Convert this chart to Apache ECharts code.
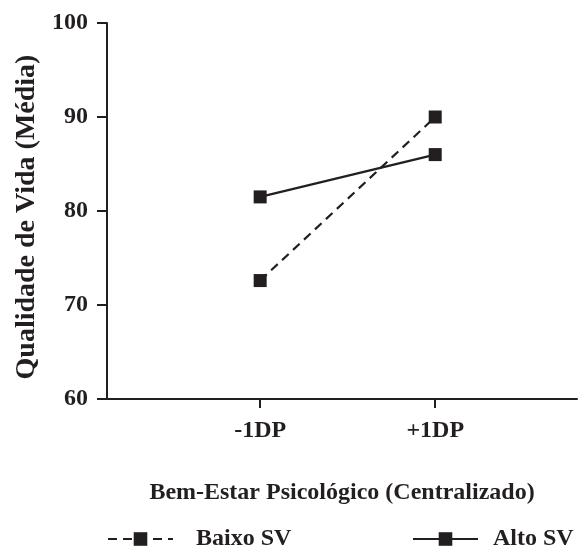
<!DOCTYPE html>
<html>
<head>
<meta charset="utf-8">
<script src="https://cdn.jsdelivr.net/npm/echarts@6/dist/echarts.min.js"></script>
<style>
  html, body { margin: 0; padding: 0; background: #fff; }
  #chart { width: 578px; height: 549px; }
</style>
</head>
<body>
<div id="chart"></div>
<script>
// positions on the x axis (-1 SD / +1 SD)
const xPositions = [-1, 1];
const xTickLabels = ["-1DP", "+1DP"];
const baixoSV = [72.6, 90.0];
const altoSV = [81.5, 86.0];
const seriesNames = ["Baixo SV", "Alto SV"];

const ink = "#231f20";
const font = "'Liberation Serif', 'Times New Roman', serif";

function pairs(vals) {
  return xPositions.map((x, i) => [x, vals[i]]);
}

const chart = echarts.init(document.getElementById("chart"));
chart.setOption({
  animation: false,
  backgroundColor: "#fff",
  grid: { left: 107, right: 1, top: 23, bottom: 150 },
  xAxis: {
    type: "value",
    min: -2.75,
    max: 2.62,
    name: "Bem-Estar Psicológico (Centralizado)",
    nameLocation: "middle",
    nameGap: 82,
    nameTextStyle: { color: ink, fontFamily: font, fontWeight: "bold", fontSize: 24 },
    splitLine: { show: false },
    axisLine: { onZero: false, lineStyle: { color: ink, width: 2 } },
    axisTick: {
      show: true,
      customValues: xPositions,
      length: 9,
      lineStyle: { color: ink, width: 2 },
    },
    axisLabel: {
      customValues: xPositions,
      margin: 20,
      color: ink,
      fontFamily: font,
      fontWeight: "bold",
      fontSize: 24,
      formatter: (v) => xTickLabels[xPositions.indexOf(v)],
    },
  },
  yAxis: {
    type: "value",
    min: 60,
    max: 100,
    interval: 10,
    name: "Qualidade de Vida (Média)",
    nameLocation: "middle",
    nameGap: 60,
    nameTextStyle: {
      color: ink, fontFamily: font, fontWeight: "bold", fontSize: 28,
      padding: [0, 12, 0, 0],
    },
    splitLine: { show: false },
    axisLine: { show: true, onZero: false, lineStyle: { color: ink, width: 2 } },
    axisTick: { show: true, length: 10, lineStyle: { color: ink, width: 2 } },
    axisLabel: {
      margin: 19,
      color: ink,
      fontFamily: font,
      fontWeight: "bold",
      fontSize: 24,
    },
  },
  legend: [
    {
      data: [seriesNames[0]],
      left: 102,
      top: 522,
      itemWidth: 65,
      itemHeight: 17,
      textStyle: { color: ink, fontFamily: font, fontWeight: "bold", fontSize: 24, padding: [0, 0, 0, 18] },
    },
    {
      data: [seriesNames[1]],
      left: 407,
      top: 522,
      itemWidth: 65,
      itemHeight: 17,
      textStyle: { color: ink, fontFamily: font, fontWeight: "bold", fontSize: 24, padding: [0, 0, 0, 10] },
    },
  ],
  series: [
    {
      name: seriesNames[0],
      type: "line",
      data: pairs(baixoSV),
      symbol: "rect",
      symbolSize: 13,
      itemStyle: { color: ink },
      lineStyle: { color: ink, width: 2.2, type: [9, 6] },
    },
    {
      name: seriesNames[1],
      type: "line",
      data: pairs(altoSV),
      symbol: "rect",
      symbolSize: 13,
      itemStyle: { color: ink },
      lineStyle: { color: ink, width: 2.2, type: "solid" },
    },
  ],
});
</script>
</body>
</html>
